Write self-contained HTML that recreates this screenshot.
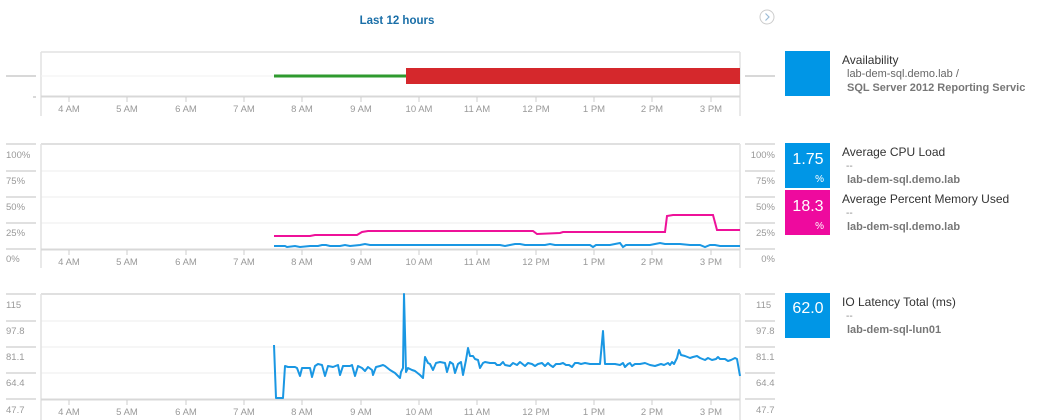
<!DOCTYPE html>
<html><head><meta charset="utf-8"><style>
html,body{margin:0;padding:0;background:#fff;width:1045px;height:420px;overflow:hidden;font-family:"Liberation Sans",sans-serif}
svg{position:absolute;left:0;top:0}
</style></head><body>
<svg width="1045" height="420" xmlns="http://www.w3.org/2000/svg" font-family="Liberation Sans, sans-serif">
<text x="397" y="24" font-size="11.5" font-weight="bold" fill="#1a6fa8" text-anchor="middle">Last 12 hours</text>
<circle cx="767" cy="17" r="7" fill="none" stroke="#ccc"/>
<path d="M765.5 13.5 L769 17 L765.5 20.5" fill="none" stroke="#9bbbd6" stroke-width="1.2"/>

<!-- chart 1 -->
<g stroke="#e2e2e2" stroke-width="1.5" fill="none">
<path d="M41 52 H740 M41 52 V116 M740 52 V116"/>
<path d="M41 96.5 H740" stroke="#d8d8d8" stroke-width="2"/>
<path d="M6 76 H36 M745 76 H775" stroke="#ccc"/>
<path d="M33 97 H36" stroke="#ccc"/>
</g>
<path d="M41 76 H740" stroke="#f2f2f2"/>
<line x1="274" y1="76" x2="406" y2="76" stroke="#2e9a2e" stroke-width="3"/>
<rect x="406" y="68" width="334" height="16" fill="#d5282c"/>

<!-- chart 2 -->
<g stroke="#ececec" stroke-width="1">
<path d="M41 171 H740 M41 197 H740 M41 223 H740"/>
</g>
<g stroke="#d6d6d6" stroke-width="1.5">
<path d="M41 144 H740 M6 144 H36 M6 171 H36 M6 197 H36 M6 223 H36 M6 249 H36 M745 144 H775 M745 171 H775 M745 197 H775 M745 223 H775 M745 249 H775"/>
<path d="M41 144 V268 M740 144 V268" stroke="#e2e2e2"/>
<path d="M41 249.5 H740" stroke="#d8d8d8" stroke-width="2"/>
</g>
<polyline fill="none" stroke="#ee1199" stroke-width="2" points="274,236 310,236 315,235 357,235 362,232 368,231 533,231 537,234 560,233 563,232 665,232 667,216 673,215 713,215 717,230 740,230"/>
<polyline fill="none" stroke="#1a97e3" stroke-width="2" points="274,246 285,246 287,247 295,246 300,247 310,246 318,246 322,245 326,245 330,246 340,246 345,245 350,246 360,245 365,244 370,245 380,245 390,245 400,245 410,245 420,245 430,245 440,245 450,245 460,245 470,245 480,245 500,245 505,246 510,245 515,244 520,244 525,245 533,245 540,245 545,245 550,244 555,245 560,245 565,245 575,245 590,245 593,247 596,245 610,245 620,243 623,247 626,245 635,245 650,245 655,244 660,243 665,244 680,244 690,245 700,245 705,247 710,245 715,245 720,246 740,246"/>

<!-- chart 3 -->
<g stroke="#ececec" stroke-width="1">
<path d="M41 321 H740 M41 347 H740 M41 373 H740"/>
</g>
<g stroke="#d6d6d6" stroke-width="1.5">
<path d="M41 294 H740 M6 294 H36 M6 321 H36 M6 347 H36 M6 373 H36 M6 399 H36 M745 294 H775 M745 321 H775 M745 347 H775 M745 373 H775 M745 399 H775"/>
<path d="M41 294 V420 M740 294 V420" stroke="#e2e2e2"/>
<path d="M41 399.5 H740" stroke="#d8d8d8" stroke-width="2"/>
</g>
<polyline fill="none" stroke="#1a97e3" stroke-width="2" stroke-linejoin="round" points="274,345 276,398 283,398 285,366 288,367 295,367 297,368 300,376 302,368 310,368 312,377 315,366 318,364 322,365 325,376 328,366 333,367 338,365 340,375 343,366 350,366 352,365 355,376 358,366 362,368 365,371 368,367 372,370 373,375 376,367 380,366 383,365 385,366 390,370 395,373 400,378 401,372 403,368 404,294 406,372 408,368 412,370 415,371 420,375 423,378 425,357 428,363 430,364 433,370 436,363 440,362 445,363 447,372 450,362 453,364 455,373 458,364 461,362 463,375 466,360 468,348 470,356 473,356 475,359 478,360 480,368 483,363 485,362 490,363 495,363 497,365 500,365 503,362 505,365 510,366 513,363 517,365 520,362 525,366 528,363 532,364 535,366 538,364 542,363 545,366 548,363 550,365 553,367 556,364 560,364 563,363 566,365 569,365 572,367 575,363 578,363 581,364 585,363 590,364 595,364 600,364 603,331 605,364 610,364 615,364 620,365 623,363 625,367 628,364 630,363 632,366 635,364 640,364 645,363 650,365 655,366 658,365 661,364 664,365 668,363 670,365 672,362 674,364 677,358 679,350 681,355 685,356 690,358 693,357 697,356 700,358 705,360 708,358 712,360 716,359 718,357 720,359 725,359 728,361 731,360 735,358 737,359 740,376"/>

<!-- x ticks & labels -->
<g stroke="#ccc" stroke-width="1">
<path d="M69 97 V102 M127 97 V102 M186 97 V102 M244 97 V102 M302 97 V102 M361 97 V102 M419 97 V102 M477 97 V102 M536 97 V102 M594 97 V102 M652 97 V102 M711 97 V102"/>
<path d="M69 250 V255 M127 250 V255 M186 250 V255 M244 250 V255 M302 250 V255 M361 250 V255 M419 250 V255 M477 250 V255 M536 250 V255 M594 250 V255 M652 250 V255 M711 250 V255"/>
<path d="M69 400 V405 M127 400 V405 M186 400 V405 M244 400 V405 M302 400 V405 M361 400 V405 M419 400 V405 M477 400 V405 M536 400 V405 M594 400 V405 M652 400 V405 M711 400 V405"/>
</g>
<g font-size="9.5" fill="#999" text-anchor="middle">
<g transform="translate(0,112)"><text x="69">4 AM</text><text x="127">5 AM</text><text x="186">6 AM</text><text x="244">7 AM</text><text x="302">8 AM</text><text x="361">9 AM</text><text x="419">10 AM</text><text x="477">11 AM</text><text x="536">12 PM</text><text x="594">1 PM</text><text x="652">2 PM</text><text x="711">3 PM</text></g>
<g transform="translate(0,265)"><text x="69">4 AM</text><text x="127">5 AM</text><text x="186">6 AM</text><text x="244">7 AM</text><text x="302">8 AM</text><text x="361">9 AM</text><text x="419">10 AM</text><text x="477">11 AM</text><text x="536">12 PM</text><text x="594">1 PM</text><text x="652">2 PM</text><text x="711">3 PM</text></g>
<g transform="translate(0,415)"><text x="69">4 AM</text><text x="127">5 AM</text><text x="186">6 AM</text><text x="244">7 AM</text><text x="302">8 AM</text><text x="361">9 AM</text><text x="419">10 AM</text><text x="477">11 AM</text><text x="536">12 PM</text><text x="594">1 PM</text><text x="652">2 PM</text><text x="711">3 PM</text></g>
</g>
<g font-size="9.5" fill="#999">
<text x="6" y="158">100%</text><text x="6" y="184">75%</text><text x="6" y="210">50%</text><text x="6" y="236">25%</text><text x="6" y="262">0%</text>
<text x="6" y="308">115</text><text x="6" y="334">97.8</text><text x="6" y="360">81.1</text><text x="6" y="386">64.4</text><text x="6" y="413">47.7</text>
</g>
<g font-size="9.5" fill="#999" text-anchor="end">
<text x="775" y="158">100%</text><text x="775" y="184">75%</text><text x="775" y="210">50%</text><text x="775" y="236">25%</text><text x="775" y="262">0%</text>
</g>
<g font-size="9.5" fill="#999">
<text x="756" y="308">115</text><text x="756" y="334">97.8</text><text x="756" y="360">81.1</text><text x="756" y="386">64.4</text><text x="756" y="413">47.7</text>
</g>

<!-- right panels -->
<rect x="785" y="51" width="45" height="45" fill="#0096e6"/>
<text x="842" y="64" font-size="12" fill="#333">Availability</text>
<text x="847" y="77" font-size="11" fill="#666">lab-dem-sql.demo.lab /</text>
<text x="847" y="91" font-size="11" font-weight="bold" fill="#777">SQL Server 2012 Reporting Servic</text>

<rect x="785" y="143" width="45" height="45" fill="#0096e6"/>
<text x="808" y="164" font-size="16" fill="#fff" text-anchor="middle">1.75</text>
<text x="824" y="182" font-size="10" fill="#fff" text-anchor="end">%</text>
<text x="842" y="156" font-size="12" fill="#333">Average CPU Load</text>
<text x="846" y="169" font-size="10" fill="#888">--</text>
<text x="847" y="183" font-size="11" font-weight="bold" fill="#777">lab-dem-sql.demo.lab</text>

<rect x="785" y="190" width="45" height="45" fill="#ee0a9e"/>
<text x="808" y="211" font-size="16" fill="#fff" text-anchor="middle">18.3</text>
<text x="824" y="229" font-size="10" fill="#fff" text-anchor="end">%</text>
<text x="842" y="203" font-size="12" fill="#333">Average Percent Memory Used</text>
<text x="846" y="216" font-size="10" fill="#888">--</text>
<text x="847" y="230" font-size="11" font-weight="bold" fill="#777">lab-dem-sql.demo.lab</text>

<rect x="785" y="293" width="45" height="45" fill="#0096e6"/>
<text x="808" y="313" font-size="16" fill="#fff" text-anchor="middle">62.0</text>
<text x="842" y="306" font-size="12" fill="#333">IO Latency Total (ms)</text>
<text x="846" y="319" font-size="10" fill="#888">--</text>
<text x="847" y="333" font-size="11" font-weight="bold" fill="#777">lab-dem-sql-lun01</text>
</svg>
</body></html>
